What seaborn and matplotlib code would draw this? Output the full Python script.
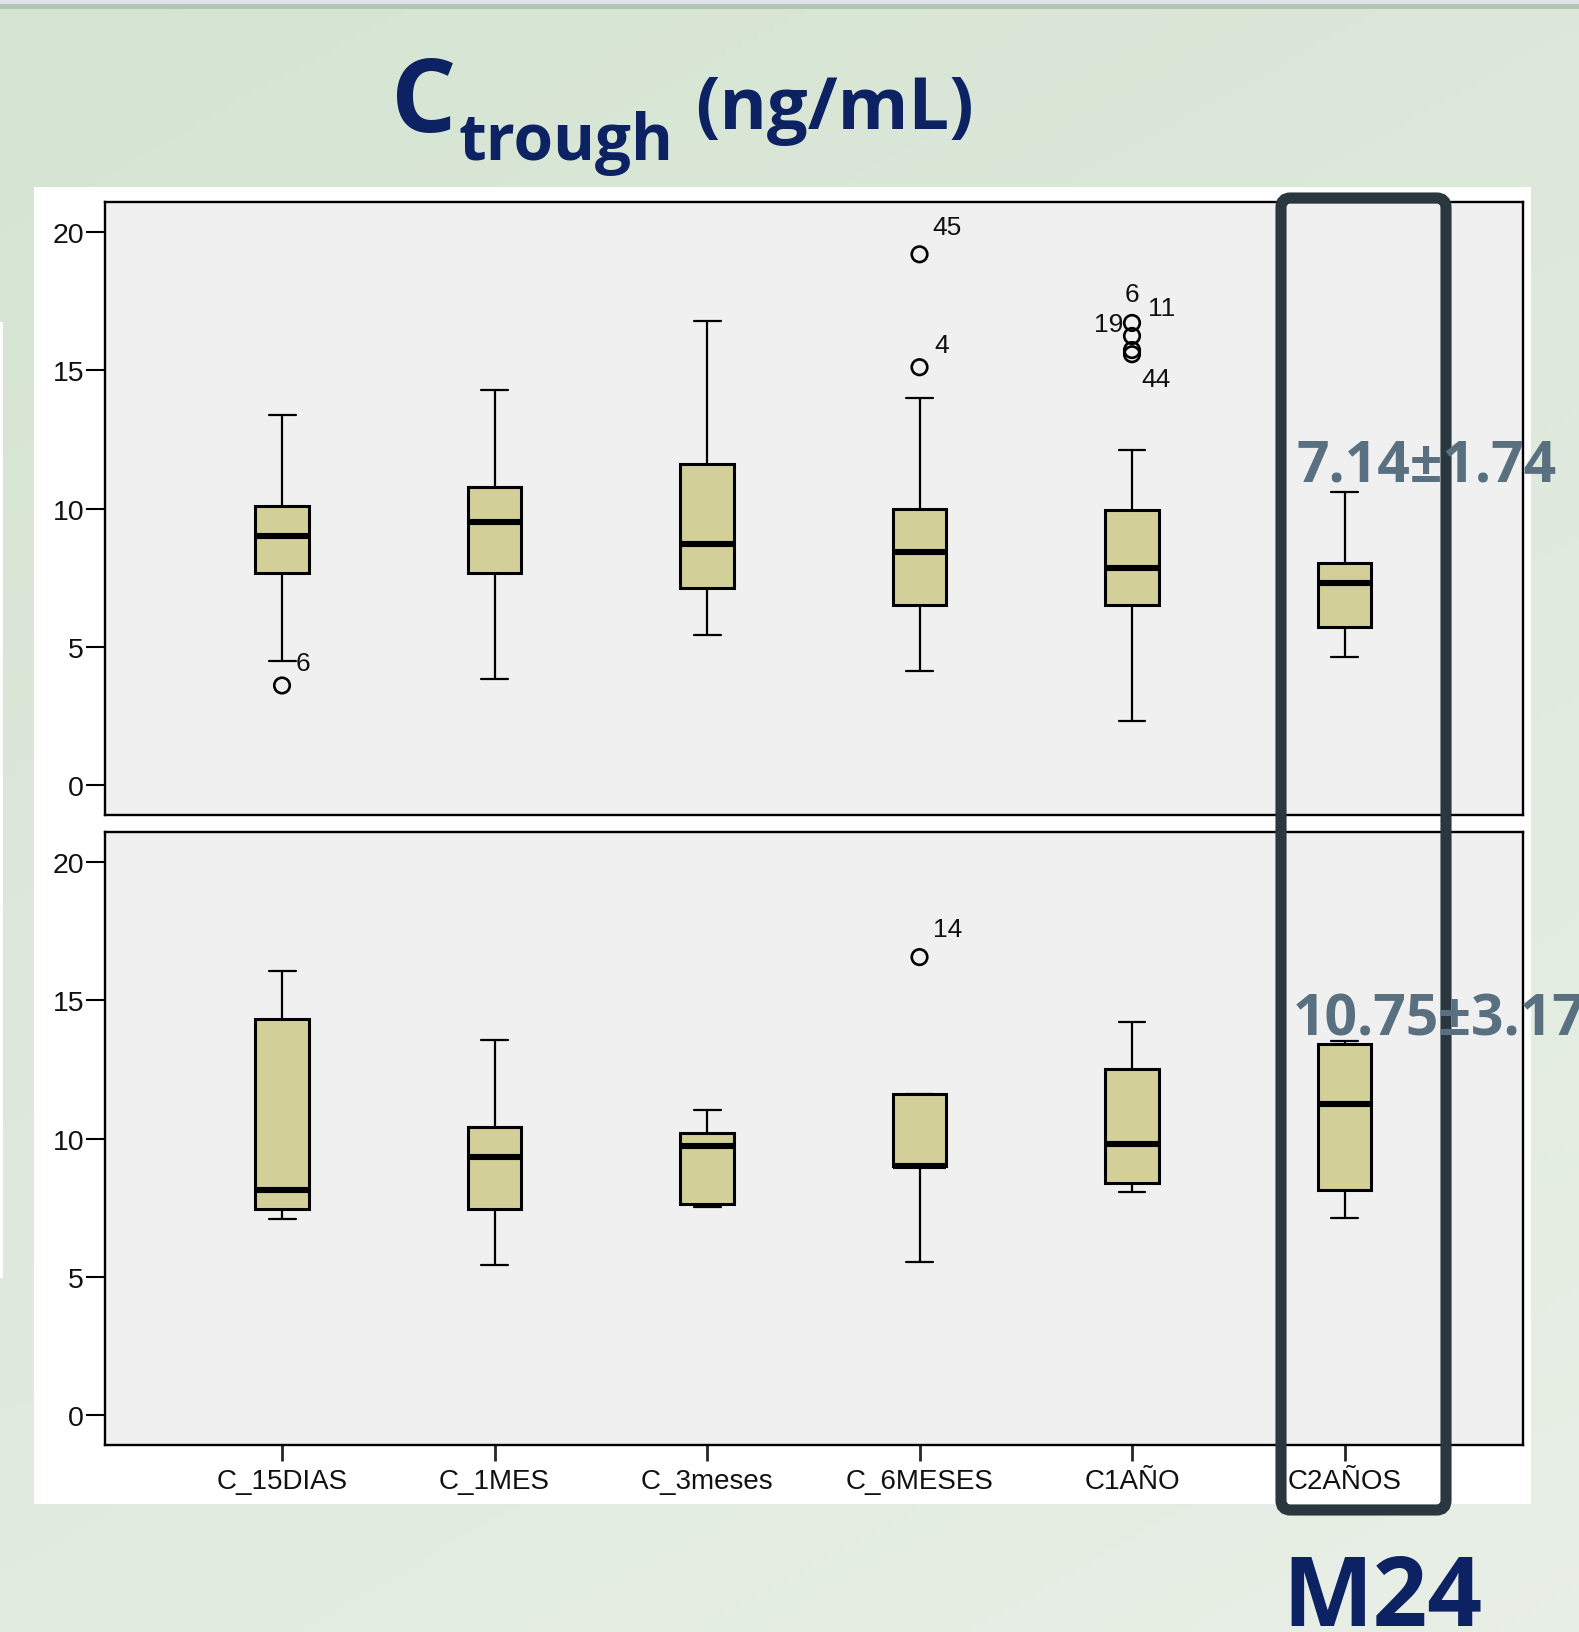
import numpy as np
import pandas as pd
import matplotlib
matplotlib.use('Agg')
import matplotlib.pyplot as plt
from matplotlib.patches import Rectangle, FancyBboxPatch
import seaborn as sns

# Categorias del eje x
categorias = ['C_15DIAS', 'C_1MES', 'C_3meses', 'C_6MESES', 'C1AÑO', 'C2AÑOS']

# Panel superior: resumen de cinco numeros por categoria
sup_min = [4.51, 3.83, 5.42, 4.13, 2.34, 4.64]
sup_q1 = [7.69, 7.69, 7.13, 6.51, 6.51, 5.73]
sup_med = [9.00, 9.52, 8.72, 8.43, 7.84, 7.33]
sup_q3 = [10.08, 10.79, 11.60, 10.00, 9.95, 8.02]
sup_max = [13.40, 14.30, 16.79, 13.99, 12.11, 10.60]

# Panel inferior
inf_min = [7.11, 5.45, 7.52, 5.53, 8.07, 7.13]
inf_q1 = [7.44, 7.44, 7.65, 9.01, 8.39, 8.14]
inf_med = [8.13, 9.33, 9.73, 9.01, 9.79, 11.26]
inf_q3 = [14.31, 10.43, 10.22, 11.63, 12.52, 13.42]
inf_max = [16.04, 13.55, 11.03, 11.63, 14.23, 13.51]

# Valores atipicos (categoria, valor, etiqueta)
sup_out_cat = ['C_15DIAS', 'C_6MESES', 'C_6MESES', 'C1AÑO', 'C1AÑO', 'C1AÑO', 'C1AÑO']
sup_out_val = [3.61, 19.19, 15.11, 16.71, 16.24, 15.73, 15.58]
sup_out_lab = ['6', '45', '4', '6', '11', '19', '44']
inf_out_cat = ['C_6MESES']
inf_out_val = [16.56]
inf_out_lab = ['14']

# Medias +- DE a 2 anos
texto_sup = '7.14±1.74'
texto_inf = '10.75±3.17'

# posiciones de etiquetas de atipicos (puntos)
sup_out_off = [(15, 16), (20, 20), (16, 16), (0, 21), (21, 20), (-17, 19), (17, -18)]
inf_out_off = [(20, 20)]

W, H = 1579, 1633
navy = '#0c2262'
gris = '#587080'
caja = '#d3cf99'


def fx(x):
    return x / W


def fy(y):
    return 1 - y / H


def tabla(mins, q1s, meds, q3s, maxs):
    filas = []
    for c, a, b, m, d, e in zip(categorias, mins, q1s, meds, q3s, maxs):
        for v in (a, b, m, d, e):
            filas.append({'tiempo': c, 'valor': v})
    return pd.DataFrame(filas)


df_sup = tabla(sup_min, sup_q1, sup_med, sup_q3, sup_max)
df_inf = tabla(inf_min, inf_q1, inf_med, inf_q3, inf_max)

sns.set_style('ticks')
plt.rcParams['font.family'] = ['Liberation Sans', 'DejaVu Sans']

fig = plt.figure(figsize=(W / 100, H / 100), dpi=100)

# fondo degradado verde
bg = fig.add_axes([0, 0, 1, 1], zorder=-5)
yy, xx = np.mgrid[0:1:200j, 0:1:200j]
t = 0.65 * yy + 0.35 * xx
c0 = np.array([0.835, 0.894, 0.824])
c1 = np.array([0.912, 0.938, 0.905])
bg.imshow(c0 + (c1 - c0) * t[..., None], extent=[0, 1, 0, 1], origin='upper', aspect='auto')
bg.set_xlim(0, 1)
bg.set_ylim(0, 1)
bg.axis('off')
bg.add_patch(Rectangle((0, fy(5)), 1, 5 / H, color='#dfe1ec', lw=0))
bg.add_patch(Rectangle((0, fy(10)), 1, 5 / H, color='#b3c5b3', lw=0))
bg.add_patch(Rectangle((fx(34), fy(1505)), 1497 / W, 1317 / H, color='white', lw=0))
bg.add_patch(Rectangle((0, fy(1279)), 3 / W, 956 / H, color='white', lw=0))

ax_sup = fig.add_axes([fx(105), fy(816), 1418 / W, 613 / H])
ax_inf = fig.add_axes([fx(105), fy(1446), 1418 / W, 613 / H])

for ax, d, oc, ov, ol, oo in [
    (ax_sup, df_sup, sup_out_cat, sup_out_val, sup_out_lab, sup_out_off),
    (ax_inf, df_inf, inf_out_cat, inf_out_val, inf_out_lab, inf_out_off),
]:
    sns.boxplot(data=d, x='tiempo', y='valor', order=categorias, width=0.254,
                whis=(0, 100), color=caja, saturation=1, linecolor='black',
                linewidth=2.2, fliersize=0,
                medianprops=dict(linewidth=4.4),
                whiskerprops=dict(linewidth=1.6),
                capprops=dict(linewidth=1.6), ax=ax)
    xs = [categorias.index(c) for c in oc]
    ax.scatter(xs, ov, s=125, facecolors='none', edgecolors='black',
               linewidths=1.9, zorder=4)
    for x, v, lab, off in zip(xs, ov, ol, oo):
        ax.annotate(lab, (x, v), xytext=off, textcoords='offset points',
                    ha='center', va='center', fontsize=19, color='#111111')
    ax.set_xlim(-0.833, 5.84)
    ax.set_ylim(-1.07, 21.08)
    ax.set_xlabel('')
    ax.set_ylabel('')
    ax.set_facecolor('#f0f0f0')
    ax.set_yticks([0, 5, 10, 15, 20])
    ax.tick_params(axis='y', length=14, width=1.5, labelsize=20.5, pad=1,
                   colors='black', labelcolor='#111111')
    for s in ax.spines.values():
        s.set_linewidth(1.7)
        s.set_color('black')

ax_sup.tick_params(axis='x', bottom=False, labelbottom=False)
ax_inf.tick_params(axis='x', length=11.5, width=2, labelsize=20, pad=5,
                   labelcolor='#111111')

# recuadro oscuro M24
fig.patches.append(FancyBboxPatch((fx(1281), fy(1511)), 165 / W, 1312 / H,
                                  boxstyle='round,pad=0,rounding_size=0.006',
                                  transform=fig.transFigure, fill=False,
                                  edgecolor='#2b373e', linewidth=8, zorder=10))

tit = dict(color=navy, fontweight='bold', family=['Open Sans', 'DejaVu Sans'],
           ha='left', va='baseline', zorder=11)
fig.text(fx(391), fy(132), 'C', fontsize=74, **tit)
fig.text(fx(458), fy(160), 'trough', fontsize=46, **tit)
fig.text(fx(695), fy(129), '(ng/mL)', fontsize=52, **tit)
fig.text(fx(1282), fy(1626), 'M24', fontsize=69, **tit)

anot = dict(color=gris, fontweight='bold', family=['Open Sans', 'DejaVu Sans'],
            ha='left', va='baseline', fontsize=41, zorder=11)
fig.text(fx(1297), fy(481), texto_sup, **anot)
fig.text(fx(1293), fy(1035), texto_inf, **anot)

fig.savefig('out.png', dpi=100)
